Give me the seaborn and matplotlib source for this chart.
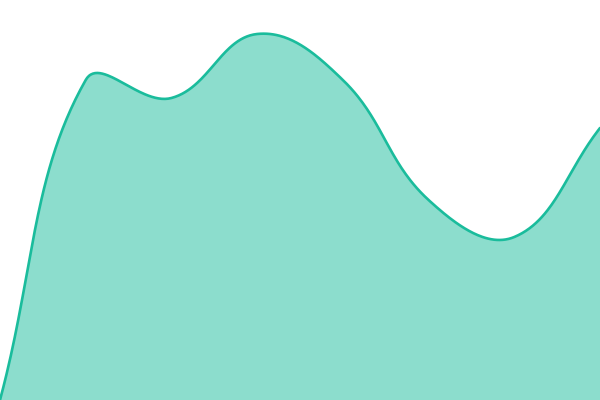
import numpy as np
import pandas as pd
import matplotlib
matplotlib.use("Agg")
import matplotlib.pyplot as plt
import seaborn as sns

# valores (0 = base, 400 = topo)
pontos = [0, 1, 2, 3, 4, 5, 6, 7]
valores = [0, 320, 302, 366, 320, 200, 163, 272]

COR_LINHA = "#1abc9c"
TENSAO = 0.4
LARGURA, ALTURA = 600, 400


def curva_suave(xs, ys, tensao=TENSAO, passos=60):
    # spline no estilo chart.js, calculada em pixels
    sx = LARGURA / (len(xs) - 1)
    px = np.array(xs, dtype=float) * sx
    py = np.array(ys, dtype=float)
    n = len(px)
    cp_antes = []
    cp_depois = []
    for i in range(n):
        a = (px[max(i - 1, 0)], py[max(i - 1, 0)])
        b = (px[i], py[i])
        c = (px[min(i + 1, n - 1)], py[min(i + 1, n - 1)])
        d01 = np.hypot(b[0] - a[0], b[1] - a[1])
        d12 = np.hypot(c[0] - b[0], c[1] - b[1])
        tot = d01 + d12
        fa = tensao * d01 / tot if tot else 0
        fb = tensao * d12 / tot if tot else 0
        cp_antes.append((b[0] - fa * (c[0] - a[0]), b[1] - fa * (c[1] - a[1])))
        cp_depois.append((b[0] + fb * (c[0] - a[0]), b[1] + fb * (c[1] - a[1])))
    cx, cy = [], []
    t = np.linspace(0, 1, passos)
    for i in range(n - 1):
        p0 = np.array([px[i], py[i]])
        p1 = np.array(cp_depois[i])
        p2 = np.array(cp_antes[i + 1])
        p3 = np.array([px[i + 1], py[i + 1]])
        seg = ((1 - t) ** 3)[:, None] * p0 + (3 * (1 - t) ** 2 * t)[:, None] * p1 \
            + (3 * (1 - t) * t ** 2)[:, None] * p2 + (t ** 3)[:, None] * p3
        cx.extend(seg[:, 0] / sx)
        cy.extend(seg[:, 1])
    return np.array(cx), np.array(cy)


def grafico_area():
    sns.set_style("white")
    fig = plt.figure(figsize=(6, 4), dpi=100)
    ax = fig.add_axes([0, 0, 1, 1])
    cx, cy = curva_suave(pontos, valores)
    df = pd.DataFrame({"x": cx, "y": cy})
    ax.fill_between(df["x"], df["y"], 0, color=COR_LINHA, alpha=0.5, linewidth=0)
    sns.lineplot(data=df, x="x", y="y", ax=ax, color=COR_LINHA, linewidth=1.9,
                 sort=False, estimator=None)
    ax.set_xlim(0, 7)
    ax.set_ylim(0, 400)
    ax.set_axis_off()
    fig.savefig("out.png", dpi=100)
    plt.close(fig)


if __name__ == "__main__":
    grafico_area()
